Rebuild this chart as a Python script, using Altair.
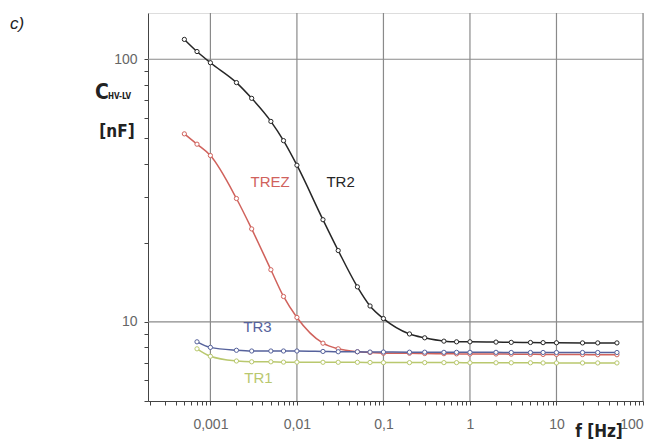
import altair as alt
import pandas as pd

# ---- data ----
series_names = ["TR1", "TREZ", "TR3", "TR2"]
series_colors = ["#b9c86e", "#d0625c", "#56629c", "#262626"]
series_widths = [1.5, 1.5, 1.5, 2.4]

freq_a = [0.0005, 0.0007, 0.001, 0.002, 0.003, 0.005, 0.007, 0.01, 0.02, 0.03, 0.05, 0.07,
          0.1, 0.2, 0.3, 0.5, 0.7, 1, 2, 3, 5, 7, 10, 20, 30, 50]
freq_b = [0.0007, 0.001, 0.002, 0.003, 0.005, 0.007, 0.01, 0.02, 0.03, 0.05, 0.07,
          0.1, 0.2, 0.3, 0.5, 0.7, 1, 2, 3, 5, 7, 10, 20, 30, 50]

c_tr2 = [119, 107, 97, 81.5, 71, 58, 49, 39.5, 24.5, 18.7, 13.6, 11.5,
         10.3, 9.0, 8.7, 8.45, 8.4, 8.4, 8.38, 8.36, 8.35, 8.34, 8.33, 8.32, 8.32, 8.32]
c_trez = [52, 47.5, 43, 29.5, 22.6, 15.8, 12.5, 10.4, 8.3, 7.9, 7.7, 7.65,
          7.6, 7.6, 7.58, 7.57, 7.56, 7.55, 7.55, 7.54, 7.53, 7.52, 7.52, 7.51, 7.5, 7.5]
c_tr3 = [8.4, 8.0, 7.8, 7.75, 7.75, 7.75, 7.75, 7.72, 7.7, 7.7, 7.68,
         7.68, 7.67, 7.67, 7.66, 7.66, 7.66, 7.66, 7.65, 7.65, 7.65, 7.65, 7.65, 7.65, 7.65]
c_tr1 = [7.9, 7.4, 7.1, 7.05, 7.05, 7.03, 7.03, 7.02, 7.02, 7.02, 7.01,
         7.0, 7.0, 7.0, 7.0, 7.0, 6.99, 6.99, 6.99, 6.99, 6.98, 6.98, 6.98, 6.98, 6.98]

label_names = ["TREZ", "TR2", "TR3", "TR1"]
label_f = [0.0049, 0.032, 0.0035, 0.0036]
label_c = [34.2, 34.2, 9.55, 6.1]
label_colors = ["#c85a55", "#222222", "#56629c", "#b5c46a"]

x_major = [0.001, 0.01, 0.1, 1, 10, 100]
y_major = [10, 100]
x_ticks = [m * d for d in [0.0001, 0.001, 0.01, 0.1, 1, 10] for m in range(1, 10)
           if 0.00019 <= m * d <= 100] + [100]
y_ticks = [5, 6, 7, 8, 9, 10, 20, 30, 40, 50, 60, 70, 80, 90, 100]

# ---- tables ----
rows = []
for name, fs, cs in [("TR1", freq_b, c_tr1), ("TREZ", freq_a, c_trez),
                     ("TR3", freq_b, c_tr3), ("TR2", freq_a, c_tr2)]:
    for f, c in zip(fs, cs):
        rows.append({"series": name, "f": f, "C": c})
df = pd.DataFrame(rows)
labels_df = pd.DataFrame({"name": label_names, "f": label_f, "C": label_c})

label_expr = ("abs(log(datum.value)/LN10 - round(log(datum.value)/LN10)) < 0.001 ? "
              "replace(format(datum.value, '~g'), '.', ',') : ''")

xscale = alt.Scale(type="log", domain=[0.00019, 100], nice=False)
yscale = alt.Scale(type="log", domain=[5, 150], nice=False)

xaxis = alt.Axis(values=x_ticks, labelExpr=label_expr, grid=False, title=None,
                 tickSize=4, tickColor="#444", domainColor="#444", labelColor="#666",
                 labelFont="Liberation Sans", labelFontSize=14, labelPadding=12,
                 labelFlush=True)
yaxis = alt.Axis(values=y_ticks, labelExpr=label_expr, grid=False, title=None,
                 tickSize=4, tickColor="#444", domainColor="#444", labelColor="#666",
                 labelFont="Liberation Sans", labelFontSize=14, labelPadding=7)

X = alt.X("f:Q", scale=xscale, axis=xaxis)
Y = alt.Y("C:Q", scale=yscale, axis=yaxis)
color = alt.Color("series:N", scale=alt.Scale(domain=series_names, range=series_colors), legend=None)

xgrid = alt.Chart(pd.DataFrame({"f": x_major})).mark_rule(color="#8a8a8a", strokeWidth=1.2).encode(
    x=alt.X("f:Q", scale=xscale, axis=xaxis))
ygrid = alt.Chart(pd.DataFrame({"C": y_major})).mark_rule(color="#8a8a8a", strokeWidth=1.2).encode(
    y=alt.Y("C:Q", scale=yscale, axis=yaxis))

lines = alt.Chart(df).mark_line(interpolate="monotone").encode(
    x=X, y=Y, color=color,
    strokeWidth=alt.StrokeWidth("series:N", scale=alt.Scale(domain=series_names, range=series_widths), legend=None))

points = alt.Chart(df).mark_point(shape="circle", filled=False, fill="white", fillOpacity=1,
                                  size=18, strokeWidth=1).encode(x=X, y=Y, color=color)

series_labels = alt.Chart(labels_df).mark_text(font="Liberation Sans", fontSize=15).encode(
    x=alt.X("f:Q", scale=xscale, axis=xaxis),
    y=alt.Y("C:Q", scale=yscale, axis=yaxis),
    text="name:N",
    color=alt.Color("name:N", scale=alt.Scale(domain=label_names, range=label_colors), legend=None))

def txt(t, x, y, **kw):
    return alt.Chart(pd.DataFrame({"t": [t]})).mark_text(**kw).encode(
        x=alt.value(x), y=alt.value(y), text="t:N")

narrow = "Liberation Sans Narrow, DejaVu Sans Condensed, Liberation Sans"
panel = txt("c)", -138, 11, font="Liberation Sans", fontSize=17, fontStyle="italic",
            align="left", color="#222")
c_main = txt("C", -53, 80, font=narrow, fontSize=21, fontWeight="bold", align="left", color="#222")
c_sub = txt("HV-LV", -40, 84, font=narrow, fontSize=8, fontWeight="bold", align="left", color="#222")
nf = txt("[nF]", -31, 119, font=narrow, fontSize=17, fontWeight="bold", align="center", color="#222")
fhz = txt("f [Hz]", 451, 419, font=narrow, fontSize=17, fontWeight="bold", align="center", color="#222")

chart = alt.layer(xgrid, ygrid, lines, points, series_labels, panel, c_main, c_sub, nf, fhz).properties(
    width=495, height=388,
    padding={"left": 148, "top": 13, "right": 15, "bottom": 40},
    autosize=alt.AutoSizeParams(type="none"),
).configure_view(stroke="#888", strokeWidth=1.2).configure(background="white")

chart.save("out.html", embed_options={"renderer": "svg", "actions": False})
